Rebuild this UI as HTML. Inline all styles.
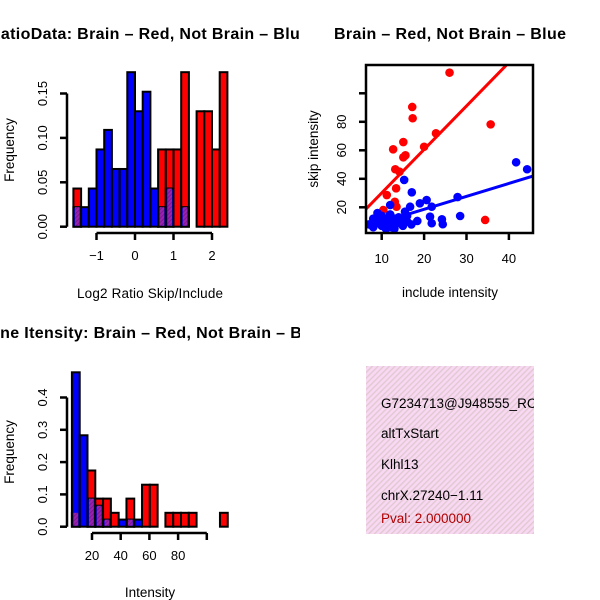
<!DOCTYPE html>
<html><head><meta charset="utf-8"><style>
body{margin:0;background:#fff}
svg{display:block;font-family:"Liberation Sans",sans-serif}
</style></head><body>
<svg id="s" width="600" height="600" viewBox="0 0 600 600">
<defs>
<pattern id="hatch" width="4" height="4" patternUnits="userSpaceOnUse" patternTransform="rotate(45)">
<rect width="4" height="4" fill="#f8d8f2"/><rect width="1.3" height="4" fill="#e0c8d0"/></pattern>
<pattern id="ph" width="3" height="3" patternUnits="userSpaceOnUse" patternTransform="rotate(45)">
<rect width="3" height="3" fill="#9a22b0"/><rect width="1" height="3" fill="#7a1890"/></pattern>
<clipPath id="leftclip"><rect x="0" y="0" width="300" height="600"/></clipPath>
</defs>
<g font-weight="bold" font-size="16">
<text x="149" y="39" text-anchor="middle" textLength="320" clip-path="url(#leftclip)">RatioData: Brain – Red, Not Brain – Blue</text>
<text x="450" y="39" text-anchor="middle" textLength="232">Brain – Red, Not Brain – Blue</text>
<text x="152" y="338" text-anchor="middle" textLength="348" clip-path="url(#leftclip)">Gene Itensity: Brain – Red, Not Brain – Blue</text>
</g>
<g id="g1"></g>
<g id="g2"></g>
<g id="g3"></g>
<g>
<svg x="366" y="366" width="168" height="168">
<rect width="168" height="168" fill="url(#hatch)"/>
<g font-size="13.5">
<text x="15" y="42">G7234713@J948555_RC</text>
<text x="15" y="72">altTxStart</text>
<text x="15" y="103">Klhl13</text>
<text x="15" y="134">chrX.27240−1.11</text>
<text x="15" y="157" fill="#b00000">Pval: 2.000000</text>
</g></svg></g>
</svg>
<script>
// Ratio histogram data
const ratioRed=[0.043,0,0,0,0,0,0,0,0,0,0,0.087,0.087,0.087,0.174,0,0.13,0.13,0.087,0.174];
const ratioBlue=[0.022,0.022,0.043,0.087,0.109,0.065,0.065,0.174,0.13,0.152,0.043,0.022,0.043,0,0.022,0,0,0,0,0];
const ratioXTicks=[-1,0,1,2];
const ratioYTicks=["0.00","0.05","0.10","0.15"];
// Intensity histogram data
const intRed=[0.043,0,0.174,0.087,0.087,0.043,0,0.087,0,0.13,0.13,0,0.043,0.043,0.043,0.043,0,0,0,0.043];
const intBlue=[0.478,0.283,0.087,0.065,0.022,0,0.022,0.022,0.022,0,0,0,0,0,0,0,0,0,0,0];
const intXTicks=[20,40,60,80,100];
const intYTicks=[0,0.1,0.2,0.3,0.4];
// Scatter data
const redX=[26.0,17.2,17.3,22.8,35.7,15.1,20.0,12.7,15.6,15.1,13.2,14.2,13.4,11.2,13.1,10.4,34.4,13.5];
const redY=[114.5,90.4,82.5,71.9,78.2,65.8,62.5,60.7,56.5,55.1,46.7,45.0,33.3,28.6,23.9,18.1,11.1,20.4];
const blueX=[41.7,44.3,15.3,17.1,12.0,27.9,28.5,18.4,21.4,24.2,24.4,21.8,20.6,19.0,21.8,16.7,15.5,7,8,9,9,10,10,10,11,11,12,12,12,13,13,14,14,15,15,16,16,17,8,11,13,9];
const blueY=[51.6,46.7,39.2,30.5,21.6,27.2,13.9,10.4,13.4,11.6,8.1,8.8,25.1,22.8,20.4,20.4,16.9,8,12,9,13,7,11,14,8,12,6,10,15,8,12,9,13,7,11,10,14,8,6,5,5,16];
const redFit=[-0.4,3.05], blueFit=[0.5,0.906];
const scXTicks=[10,20,30,40], scYTicks=[20,40,60,80,100];

const NS="http://www.w3.org/2000/svg";
function mk(p,t,a){const e=document.createElementNS(NS,t);for(const k in a)e.setAttribute(k,a[k]);p.appendChild(e);return e;}

function hist(g,red,blue,x0,bw,sx,sy,xTicks,xLab,yTicks,axisY,yAxX,tickFmt,axLo,axHi){
  for(let i=0;i<red.length;i++){
    const xa=x0+i*bw, xb=xa+bw, r=red[i], b=blue[i];
    if(r>0){const e=mk(g,'rect',{x:sx(xa),y:sy(r),width:sx(xb)-sx(xa),height:sy(0)-sy(r),fill:'#ff0000',stroke:'#000','stroke-width':2});
      }
    if(b>0){const e=mk(g,'rect',{x:sx(xa),y:sy(b),width:sx(xb)-sx(xa),height:sy(0)-sy(b),fill:'#0000ff',stroke:'#000','stroke-width':2});
      }
    const m=Math.min(r,b);
    if(m>0){const e=mk(g,'rect',{x:sx(xa)+1.5,y:sy(m),width:sx(xb)-sx(xa)-3,height:sy(0)-sy(m)-1,fill:'url(#ph)'});
      }
  }
  mk(g,'line',{x1:sx(axLo),x2:sx(axHi),y1:axisY,y2:axisY,stroke:'#000','stroke-width':2.5});
  xTicks.forEach(v=>{mk(g,'line',{x1:sx(v),x2:sx(v),y1:axisY,y2:axisY+7,stroke:'#000','stroke-width':2.5});
    if(xLab(v)!==''){const t=mk(g,'text',{x:sx(v),y:axisY+27,'text-anchor':'middle','font-size':13});t.textContent=xLab(v);
    }});
  const yv=yTicks.map(Number);
  mk(g,'line',{x1:yAxX,x2:yAxX,y1:sy(yv[0]),y2:sy(yv[yv.length-1]),stroke:'#000','stroke-width':2.5});
  yTicks.forEach(v=>{const y=sy(Number(v));mk(g,'line',{x1:yAxX-7,x2:yAxX,y1:y,y2:y,stroke:'#000','stroke-width':2.5});
    const t=mk(g,'text',{x:0,y:0,'text-anchor':'middle','font-size':13,transform:`translate(${yAxX-20},${y}) rotate(-90)`});t.textContent=tickFmt(v);
    });
}
{const g=document.getElementById('g1');
 const sx=v=>135+38.5*v, sy=v=>226.7-v*888;
 hist(g,ratioRed,ratioBlue,-1.6,0.2,sx,sy,ratioXTicks,v=>String(v).replace('-','−'),ratioYTicks,233,67,v=>v,-1,2);
 const t=mk(g,'text',{x:150,y:298,'text-anchor':'middle','font-size':13.5,textLength:146});t.textContent='Log2 Ratio Skip/Include';
 
 const f=mk(g,'text',{x:0,y:0,'text-anchor':'middle','font-size':13.5,transform:'translate(14,150) rotate(-90)'});f.textContent='Frequency';
 }
{const g=document.getElementById('g2');
 const sx=v=>63.3+1.435*v, sy=v=>526.7-v*323;
 hist(g,intRed,intBlue,6,5.43,sx,sy,intXTicks,v=>v===100?'':String(v),intYTicks,533,67,v=>Number(v).toFixed(1),20,100);
 const t=mk(g,'text',{x:150,y:597,'text-anchor':'middle','font-size':13.5});t.textContent='Intensity';
 
 const f=mk(g,'text',{x:0,y:0,'text-anchor':'middle','font-size':13.5,transform:'translate(14,452) rotate(-90)'});f.textContent='Frequency';
 }
{const g=document.getElementById('g3');
 const sx=v=>381.7+(v-10)*4.24, sy=v=>207.3-(v-20)*1.425;
 const L=366,R=533,T=65,B=233;
 const s=document.createElementNS(NS,'svg');s.setAttribute('x',L);s.setAttribute('y',T);s.setAttribute('width',R-L);s.setAttribute('height',B-T);
 s.setAttribute('overflow','hidden');g.appendChild(s);
 const ox=v=>sx(v)-L, oy=v=>sy(v)-T;
 redX.forEach((x,i)=>{const c=mk(s,'circle',{cx:ox(x),cy:oy(redY[i]),r:4.3,fill:'#ff0000'});});
 let l=mk(s,'line',{x1:ox(0),y1:oy(redFit[0]),x2:ox(60),y2:oy(redFit[0]+redFit[1]*60),stroke:'#ff0000','stroke-width':3});
 
 blueX.forEach((x,i)=>{const c=mk(s,'circle',{cx:ox(x),cy:oy(blueY[i]),r:4.3,fill:'#0000ff'});});
 l=mk(s,'line',{x1:ox(0),y1:oy(blueFit[0]),x2:ox(60),y2:oy(blueFit[0]+blueFit[1]*60),stroke:'#0000ff','stroke-width':3});
 
 mk(g,'rect',{x:L,y:T,width:R-L,height:B-T,fill:'none',stroke:'#000','stroke-width':2.5});
 scXTicks.forEach(v=>{mk(g,'line',{x1:sx(v),x2:sx(v),y1:B,y2:B+7,stroke:'#000','stroke-width':2.5});
   const t=mk(g,'text',{x:sx(v),y:B+30,'text-anchor':'middle','font-size':13});t.textContent=v;
   });
 scYTicks.forEach(v=>{mk(g,'line',{x1:L-7,x2:L,y1:sy(v),y2:sy(v),stroke:'#000','stroke-width':2.5});
   if(v<100){const t=mk(g,'text',{x:0,y:0,'text-anchor':'middle','font-size':13,transform:`translate(${L-20},${sy(v)}) rotate(-90)`});t.textContent=v;
   }});
 const t=mk(g,'text',{x:450,y:297,'text-anchor':'middle','font-size':13.5});t.textContent='include intensity';
 
 const f=mk(g,'text',{x:0,y:0,'text-anchor':'middle','font-size':13.5,transform:'translate(318,149) rotate(-90)'});f.textContent='skip intensity';
 }
</script>
</body></html>
